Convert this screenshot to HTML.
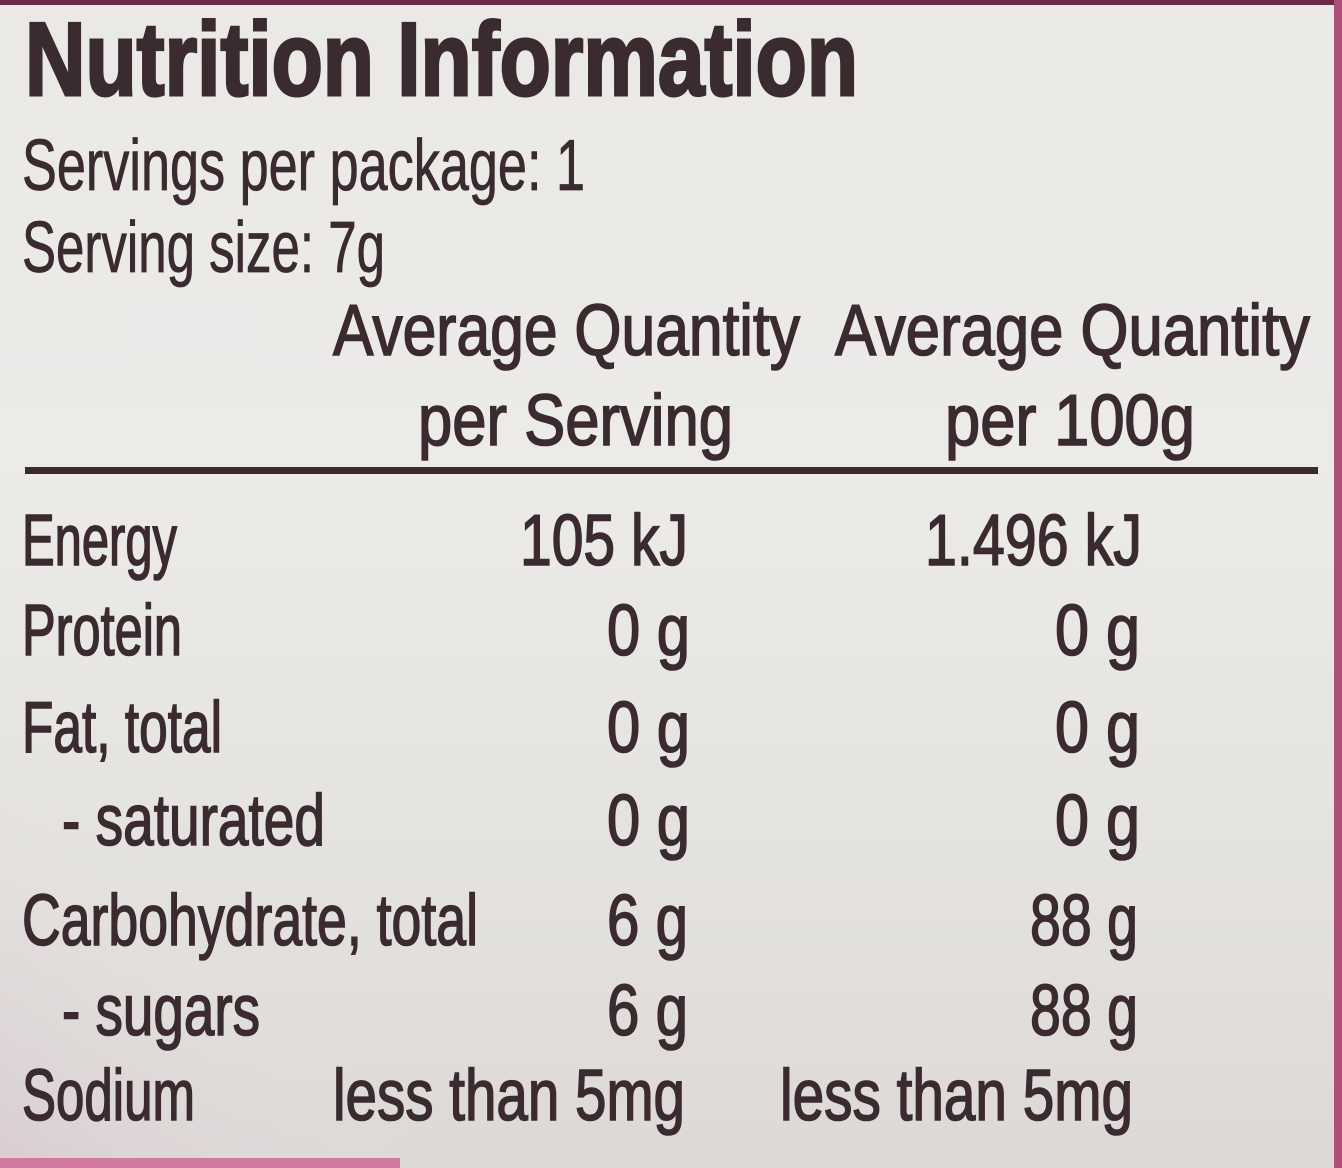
<!DOCTYPE html>
<html><head><meta charset="utf-8"><style>
html,body{margin:0;padding:0;width:1342px;height:1168px;overflow:hidden;}
body{background:linear-gradient(180deg,#ebe9e6 0%,#ecebe8 40%,#e4e2df 75%,#dcd8d6 100%);}
svg{position:absolute;left:0;top:0;}
text{font-family:"Liberation Sans",sans-serif;fill:#3a2b30;stroke:#3a2b30;stroke-width:1.6;}
</style></head><body>
<svg width="1342" height="1168" viewBox="0 0 1342 1168">
<defs>
<linearGradient id="bl" x1="0" y1="1" x2="0.4" y2="0.6"><stop offset="0" stop-color="#d9c9cf" stop-opacity="0.8"/><stop offset="1" stop-color="#e6e4e1" stop-opacity="0"/></linearGradient>
</defs>
<rect x="0" y="600" width="600" height="568" fill="url(#bl)"/>
<rect x="0" y="0" width="1342" height="5" fill="#6a2a48"/>
<rect x="1334" y="0" width="8" height="1168" fill="#b0507a"/>
<rect x="0" y="1158" width="400" height="10" fill="#d07aa0"/>
<g font-weight="bold">
<text x="25" y="95" font-size="104" textLength="833" lengthAdjust="spacingAndGlyphs" style="stroke-width:3">Nutrition Information</text>
</g>
<g font-size="72">
<text x="22" y="190" textLength="563" lengthAdjust="spacingAndGlyphs" style="stroke-width:0.8">Servings per package: 1</text>
<text x="22" y="272" textLength="363" lengthAdjust="spacingAndGlyphs" style="stroke-width:0.8">Serving size: 7g</text>
<text x="333" y="355" textLength="467" lengthAdjust="spacingAndGlyphs">Average Quantity</text>
<text x="835" y="355" textLength="475" lengthAdjust="spacingAndGlyphs">Average Quantity</text>
<text x="418" y="445" textLength="315" lengthAdjust="spacingAndGlyphs">per Serving</text>
<text x="945" y="445" textLength="250" lengthAdjust="spacingAndGlyphs">per 100g</text>
</g>
<rect x="25" y="467" width="1293" height="7" fill="#3a2b30"/>
<g font-size="72">
<text x="22" y="565" textLength="155" lengthAdjust="spacingAndGlyphs">Energy</text>
<text x="520" y="565" textLength="168" lengthAdjust="spacingAndGlyphs">105 kJ</text>
<text x="925" y="565" textLength="217" lengthAdjust="spacingAndGlyphs">1.496 kJ</text>
<text x="22" y="655" textLength="160" lengthAdjust="spacingAndGlyphs">Protein</text>
<text x="607" y="655" textLength="83" lengthAdjust="spacingAndGlyphs">0 g</text>
<text x="1055" y="655" textLength="85" lengthAdjust="spacingAndGlyphs">0 g</text>
<text x="22" y="752" textLength="200" lengthAdjust="spacingAndGlyphs">Fat, total</text>
<text x="607" y="752" textLength="83" lengthAdjust="spacingAndGlyphs">0 g</text>
<text x="1055" y="752" textLength="85" lengthAdjust="spacingAndGlyphs">0 g</text>
<text x="62" y="845" textLength="263" lengthAdjust="spacingAndGlyphs">- saturated</text>
<text x="607" y="845" textLength="83" lengthAdjust="spacingAndGlyphs">0 g</text>
<text x="1055" y="845" textLength="85" lengthAdjust="spacingAndGlyphs">0 g</text>
<text x="22" y="945" textLength="456" lengthAdjust="spacingAndGlyphs">Carbohydrate, total</text>
<text x="607" y="945" textLength="81" lengthAdjust="spacingAndGlyphs">6 g</text>
<text x="1030" y="945" textLength="108" lengthAdjust="spacingAndGlyphs">88 g</text>
<text x="62" y="1035" textLength="198" lengthAdjust="spacingAndGlyphs">- sugars</text>
<text x="607" y="1035" textLength="81" lengthAdjust="spacingAndGlyphs">6 g</text>
<text x="1030" y="1035" textLength="108" lengthAdjust="spacingAndGlyphs">88 g</text>
<text x="22" y="1120" textLength="173" lengthAdjust="spacingAndGlyphs">Sodium</text>
<text x="333" y="1120" textLength="352" lengthAdjust="spacingAndGlyphs">less than 5mg</text>
<text x="780" y="1120" textLength="353" lengthAdjust="spacingAndGlyphs">less than 5mg</text>
</g>
</svg>
</body></html>
